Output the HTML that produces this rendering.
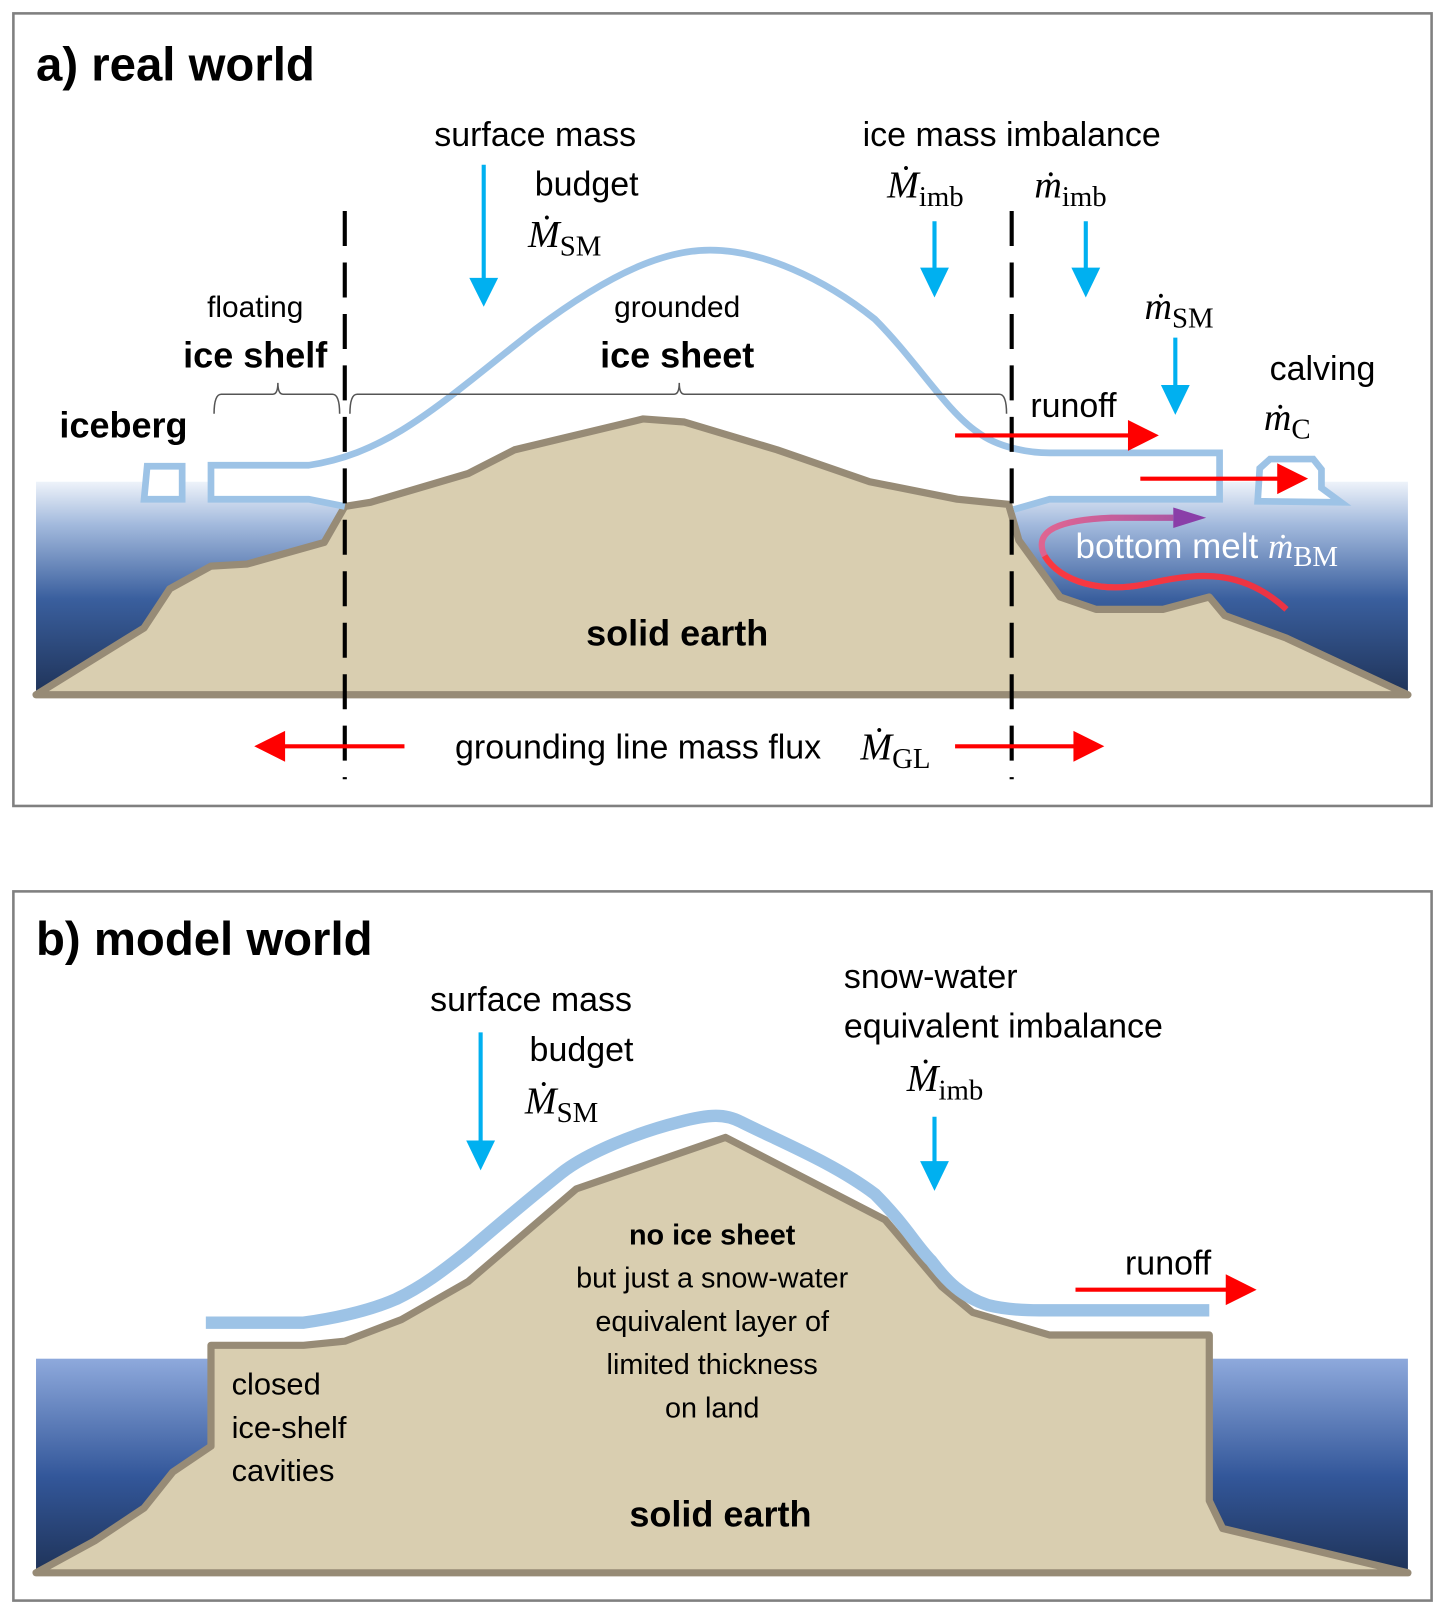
<!DOCTYPE html>
<html><head><meta charset="utf-8">
<style>
html,body{margin:0;padding:0;background:#fff;}
svg{display:block;}
.s{font-family:"Liberation Sans",sans-serif;}
.m{font-family:"Liberation Serif",serif;font-style:italic;}
.sub{font-family:"Liberation Serif",serif;font-style:normal;}
</style></head>
<body>
<svg width="1446" height="1615" viewBox="0 0 1405 1569" preserveAspectRatio="none" xmlns="http://www.w3.org/2000/svg">
<defs>
<linearGradient id="oc" x1="0" y1="0" x2="0" y2="1">
<stop offset="0" stop-color="#eef3fa"/>
<stop offset="0.2" stop-color="#a3badd"/>
<stop offset="0.55" stop-color="#3a5f9e"/>
<stop offset="1" stop-color="#1f3358"/>
</linearGradient>
<linearGradient id="oc2" x1="0" y1="0" x2="0" y2="1">
<stop offset="0" stop-color="#8ea9dc"/>
<stop offset="0.55" stop-color="#33579a"/>
<stop offset="1" stop-color="#1f3358"/>
</linearGradient>
<linearGradient id="pm" x1="0" y1="0" x2="1" y2="0">
<stop offset="0" stop-color="#e85d8a"/>
<stop offset="1" stop-color="#7a3aa8"/>
</linearGradient>
</defs>

<!-- Panel a -->
<rect x="13" y="13" width="1378" height="770" fill="#fff" stroke="#808080" stroke-width="2.5"/>
<text x="35" y="78" class="s" font-size="46" font-weight="bold">a) real world</text>

<rect x="35" y="468" width="1333" height="207" fill="url(#oc)"/>

<path d="M205,452 L300,452 C380,440 430,390 520,320 C600,260 650,243 690,243 C740,243 800,270 850,310 C890,350 920,400 950,420 C970,435 1000,440 1020,440 L1185,440 L1185,485 L1020,485 L985,495 L335,492 L300,485 L205,485 Z" fill="#fff"/>
<path d="M35,675 L140,610 L165,572 L205,550 L240,548 L315,527 L335,492 L360,488 L455,460 L500,437 L625,407 L665,410 L755,437 L845,468 L930,485 L980,490 L990,525 L1030,580 L1065,592 L1130,592 L1175,580 L1190,598 L1250,620 L1368,675 Z" fill="#d9ceb0" stroke="#978b76" stroke-width="7" stroke-linejoin="round"/>
<path d="M335,492 L300,485 L205,485 L205,452 L300,452 C380,440 430,390 520,320 C600,260 650,243 690,243 C740,243 800,270 850,310 C890,350 920,400 950,420 C970,435 1000,440 1020,440 L1185,440 L1185,485 L1020,485 L985,495" fill="none" stroke="#9dc3e6" stroke-width="6.5"/>
<path d="M140,485 L143,453 L177,453 L177,485 Z" fill="#fff" stroke="#9dc3e6" stroke-width="6.5"/>
<path d="M1222,487 L1224,455 L1234,446 L1276,446 L1284,456 L1284,474 L1303,488 Z" fill="#fff" stroke="#9dc3e6" stroke-width="6.5"/>

<line x1="335" y1="205" x2="335" y2="757" stroke="#000" stroke-width="4" stroke-dasharray="34,16"/>
<line x1="983" y1="205" x2="983" y2="757" stroke="#000" stroke-width="4" stroke-dasharray="34,16"/>

<path d="M208,402 Q208,383 215,383 L265,383 Q270,383 270,372 Q270,383 275,383 L323,383 Q330,383 330,402" fill="none" stroke="#555" stroke-width="1.5"/>
<path d="M340,402 Q340,383 347,383 L655,383 Q660,383 660,372 Q660,383 665,383 L971,383 Q978,383 978,402" fill="none" stroke="#555" stroke-width="1.5"/>

<g stroke="#00b0f0" stroke-width="4" fill="#00b0f0">
<line x1="470" y1="160" x2="470" y2="272"/><path d="M456,270 L484,270 L470,298 Z" stroke="none"/>
<line x1="908" y1="215" x2="908" y2="262"/><path d="M894,260 L922,260 L908,289 Z" stroke="none"/>
<line x1="1055" y1="215" x2="1055" y2="262"/><path d="M1041,260 L1069,260 L1055,289 Z" stroke="none"/>
<line x1="1142" y1="328" x2="1142" y2="376"/><path d="M1128,374 L1156,374 L1142,403 Z" stroke="none"/>
</g>

<g stroke="#ff0000" stroke-width="4" fill="#ff0000">
<line x1="928" y1="423" x2="1098" y2="423"/><path d="M1096,408 L1126,423 L1096,438 Z" stroke="none"/>
<line x1="1108" y1="465" x2="1243" y2="465"/><path d="M1241,450 L1271,465 L1241,480 Z" stroke="none"/>
<line x1="393" y1="725" x2="275" y2="725"/><path d="M277,710 L247,725 L277,740 Z" stroke="none"/>
<line x1="928" y1="725" x2="1045" y2="725"/><path d="M1043,710 L1073,725 L1043,740 Z" stroke="none"/>
</g>

<path d="M1250,592 C1210,555 1170,555 1120,566 C1070,578 1030,565 1015,540 C1003,515 1030,505 1080,503 L1140,503" fill="none" stroke="url(#pm)" stroke-width="6" opacity="0.9"/>
<path d="M1250,592 C1210,555 1170,555 1120,566 C1070,578 1030,565 1015,540" fill="none" stroke="#ff3333" stroke-width="6" opacity="0.85"/>
<path d="M1140,493 L1172,503 L1140,513 Z" fill="#8a3ea8"/>

<g class="s" font-size="33" text-anchor="middle">
<text x="520" y="142">surface mass</text>
<text x="570" y="190">budget</text>
<text x="983" y="142">ice mass imbalance</text>
<text x="1285" y="369">calving</text>
<text x="248" y="308" font-size="29">floating</text>
<text x="658" y="308" font-size="29">grounded</text>
<text x="248" y="357" font-size="35" font-weight="bold">ice shelf</text>
<text x="658" y="357" font-size="35" font-weight="bold">ice sheet</text>
<text x="120" y="425" font-size="35" font-weight="bold">iceberg</text>
<text x="1043" y="405">runoff</text>
<text x="658" y="627" font-size="35" font-weight="bold">solid earth</text>
<text x="620" y="737">grounding line mass flux</text>
</g>
<text x="1045" y="542" class="s" font-size="34" fill="#fff">bottom melt <tspan class="m">ṁ</tspan><tspan class="sub" font-size="28" dy="8">BM</tspan></text>
<g font-size="37">
<text x="513" y="240" class="m">Ṁ<tspan class="sub" font-size="28" dy="8">SM</tspan></text>
<text x="862" y="192" class="m">Ṁ<tspan class="sub" font-size="28" dy="8">imb</tspan></text>
<text x="1005" y="192" class="m">ṁ<tspan class="sub" font-size="28" dy="8">imb</tspan></text>
<text x="1112" y="310" class="m">ṁ<tspan class="sub" font-size="28" dy="8">SM</tspan></text>
<text x="1228" y="418" class="m">ṁ<tspan class="sub" font-size="28" dy="8">C</tspan></text>
<text x="836" y="738" class="m">Ṁ<tspan class="sub" font-size="28" dy="8">GL</tspan></text>
</g>

<!-- Panel b -->
<rect x="13" y="866" width="1378" height="689" fill="#fff" stroke="#808080" stroke-width="2.5"/>
<text x="35" y="928" class="s" font-size="46" font-weight="bold">b) model world</text>

<rect x="35" y="1320" width="172" height="208" fill="url(#oc2)"/>
<rect x="1175" y="1320" width="193" height="208" fill="url(#oc2)"/>
<path d="M35,1528 L92,1497 L140,1465 L168,1430 L205,1405 L205,1307 L295,1307 L335,1303 L390,1282 L455,1245 L560,1155 L705,1105 L860,1185 L915,1250 L945,1275 L1020,1297 L1175,1297 L1175,1458 L1188,1485 L1368,1528 Z" fill="#d9ceb0" stroke="#978b76" stroke-width="7" stroke-linejoin="round"/>
<path d="M200,1285 L295,1285 C330,1280 360,1273 385,1262 C410,1250 430,1235 455,1215 C490,1185 520,1160 545,1140 C570,1120 620,1100 660,1090 C690,1082 705,1082 720,1090 C760,1110 810,1130 850,1160 C880,1190 890,1210 905,1225 C920,1245 935,1260 960,1268 C980,1273 1000,1273 1010,1273 L1175,1273" fill="none" stroke="#9dc3e6" stroke-width="12"/>

<g stroke="#00b0f0" stroke-width="4" fill="#00b0f0">
<line x1="467" y1="1003" x2="467" y2="1110"/><path d="M453,1108 L481,1108 L467,1137 Z" stroke="none"/>
<line x1="908" y1="1085" x2="908" y2="1130"/><path d="M894,1128 L922,1128 L908,1157 Z" stroke="none"/>
</g>
<line x1="1045" y1="1253" x2="1193" y2="1253" stroke="#ff0000" stroke-width="4"/>
<path d="M1191,1238 L1221,1253 L1191,1268 Z" fill="#ff0000"/>

<g class="s" font-size="33">
<text x="516" y="982" text-anchor="middle">surface mass</text>
<text x="565" y="1031" text-anchor="middle">budget</text>
<text x="820" y="960">snow-water</text>
<text x="820" y="1008">equivalent imbalance</text>
<text x="1135" y="1238" text-anchor="middle">runoff</text>
</g>
<g class="s" font-size="28" text-anchor="middle">
<text x="692" y="1209" font-weight="bold">no ice sheet</text>
<text x="692" y="1251">but just a snow-water</text>
<text x="692" y="1293">equivalent layer of</text>
<text x="692" y="1335">limited thickness</text>
<text x="692" y="1377">on land</text>
</g>
<g class="s" font-size="30">
<text x="225" y="1355">closed</text>
<text x="225" y="1397">ice-shelf</text>
<text x="225" y="1439">cavities</text>
</g>
<text x="700" y="1483" class="s" font-size="35" font-weight="bold" text-anchor="middle">solid earth</text>
<g font-size="37">
<text x="510" y="1082" class="m">Ṁ<tspan class="sub" font-size="28" dy="8">SM</tspan></text>
<text x="881" y="1060" class="m">Ṁ<tspan class="sub" font-size="28" dy="8">imb</tspan></text>
</g>
</svg>
</body></html>
